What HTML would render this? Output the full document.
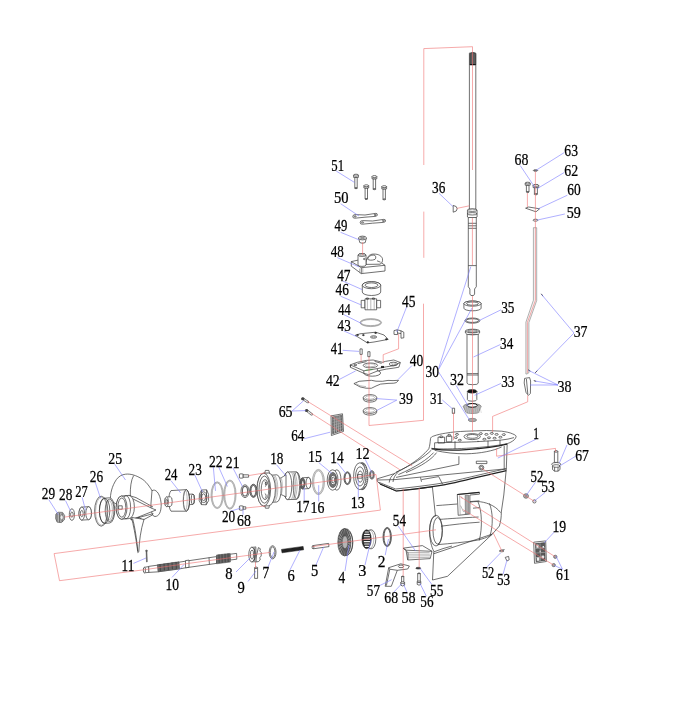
<!DOCTYPE html>
<html><head><meta charset="utf-8"><style>
html,body{margin:0;padding:0;background:#fff;}
svg{display:block;}
text{font-family:"Liberation Serif",serif;fill:#000;stroke:#000;stroke-width:.25px;}
svg{will-change:transform}
.p{fill:#fff;stroke:#333;stroke-width:.7;stroke-linejoin:round}
.n{fill:none;stroke:#333;stroke-width:.7;stroke-linejoin:round}
.d{fill:#555;stroke:#333;stroke-width:.5}
.sp{fill:#6a6a6a;stroke:#444;stroke-width:.5}
.g{fill:#aaa;stroke:#555;stroke-width:.5}
.w{fill:none;stroke:#ccc;stroke-width:.6}
.nl{fill:none;stroke:#777;stroke-width:.5}
.k{fill:#222;stroke:#111;stroke-width:.5}
.dk{fill:#888;stroke:#333;stroke-width:.6}
.rod{fill:#f4f4f4;stroke:#666;stroke-width:.5}
.r{fill:none;stroke:#f07070;stroke-width:.6}
.b{fill:none;stroke:#7a7aff;stroke-width:.6}
</style></head><body>
<svg width="693" height="720" viewBox="0 0 693 720">
<rect width="693" height="720" fill="#fff"/>
<rect class="p" x="469.4" y="53" width="6.4" height="157"/>
<path d="M469.9,54.4Q470,52.6 472.8,52.5Q475.6,52.6 475.7,54.4V64.8H469.9Z" fill="#5c5c5c" stroke="#222" stroke-width=".6"/>
<path d="M469.9,64.6H475.7" stroke="#111" stroke-width="1"/>
<path class="p" d="M467.45,210.2V217.0A4.8,1.2 0 0 0 477.05,217.0V210.2A4.8,1.2 0 0 0 467.45,210.2Z"/>
<ellipse class="p" cx="472.25" cy="210.2" rx="4.8" ry="1.2"/>
<ellipse class="n" cx="472.25" cy="213.8" rx="4.8" ry="1.2"/>
<path class="p" d="M468.3,217.5H476.3V286.7L474.6,289V294L473.6,295.5H470.9L469.9,294V289L468.3,286.7Z"/>
<path class="n" d="M468.3,223.3L476.3,223.3"/>
<path class="n" d="M468.3,225.8L476.3,225.8"/>
<path class="n" d="M468.3,228.3L476.3,228.3"/>
<path class="n" d="M468.3,265.6L476.3,265.6"/>
<path class="p" d="M453.2,205.4V212.2Q457.2,211.6 457.2,208.8Q457.2,206 453.2,205.4Z"/>
<rect class="p" x="354.8" y="177.39999999999998" width="2.4" height="10.800000000000011"/>
<ellipse class="p" cx="356" cy="188.2" rx="1.2" ry="0.48"/>
<rect class="p" x="353.6" y="175.16" width="4.8" height="2.2399999999999998"/>
<ellipse class="p" cx="356" cy="175.16" rx="2.4" ry="0.96"/>
<rect class="p" x="373.2" y="178.79999999999998" width="2.4" height="10.400000000000006"/>
<ellipse class="p" cx="374.4" cy="189.2" rx="1.2" ry="0.48"/>
<rect class="p" x="372.0" y="176.56" width="4.8" height="2.2399999999999998"/>
<ellipse class="p" cx="374.4" cy="176.56" rx="2.4" ry="0.96"/>
<rect class="p" x="365.1" y="188.0" width="2.4" height="11.0"/>
<ellipse class="p" cx="366.3" cy="199.0" rx="1.2" ry="0.48"/>
<rect class="p" x="363.90000000000003" y="185.76000000000002" width="4.8" height="2.2399999999999998"/>
<ellipse class="p" cx="366.3" cy="185.76000000000002" rx="2.4" ry="0.96"/>
<rect class="p" x="383.0" y="188.89999999999998" width="2.4" height="10.5"/>
<ellipse class="p" cx="384.2" cy="199.39999999999998" rx="1.2" ry="0.48"/>
<rect class="p" x="381.8" y="186.66" width="4.8" height="2.2399999999999998"/>
<ellipse class="p" cx="384.2" cy="186.66" rx="2.4" ry="0.96"/>
<path class="p" d="M352.8,216.6Q352.8,214.6 355,214.6L365,215L375.4,213.4Q377.6,213.2 377.4,215Q377,216.4 375,216.4L365,217.2L355,218.2Q352.8,218.4 352.8,216.6Z"/>
<ellipse class="n" cx="355.2" cy="216.4" rx="1" ry="0.6"/>
<ellipse class="n" cx="375.2" cy="214.9" rx="1" ry="0.6"/>
<path class="p" d="M360.2,222.6Q360.2,220.6 362.4,220.6L372.6,221L383.4,219.4Q385.8,219.2 385.6,221Q385.2,222.4 383.2,222.4L372.6,223.2L362.4,224.2Q360.2,224.4 360.2,222.6Z"/>
<ellipse class="n" cx="362.6" cy="222.4" rx="1" ry="0.6"/>
<ellipse class="n" cx="383.4" cy="220.9" rx="1" ry="0.6"/>
<path class="p" d="M358.6,238Q362.5,235 366.4,238L365.2,242.6Q362.5,244 359.8,242.6Z"/>
<ellipse class="p" cx="362.5" cy="238" rx="3.9" ry="1.9"/>
<ellipse class="g" cx="362.5" cy="238" rx="2.2" ry="1"/>
<path class="p" d="M351.3,261.6L357.7,260.2L377,259.8L385,265.3V271L361.3,273.6L351.3,266.2Z"/>
<path class="n" d="M351.3,261.6L361.3,267.7L385,265.3M361.3,267.7V273.6"/>
<path class="nl" d="M359.6,268.6V273.2M362.8,267.6V273.4"/>
<path class="p" d="M366,264.4C366,259 368,255 372,254.2C377,253.6 381,255 382.4,258.4C383,261 382,263.4 380,264.2Z"/>
<path class="n" d="M367.6,259.2C368.4,256 371,255 374,255C376,255.4 376.4,258 375,259.4C372,260.6 369,260.4 367.6,259.2Z"/>
<path class="n" d="M377,260.8L380.6,262.2"/>
<path class="p" d="M358,255V265A4,1.4 0 0 0 366,265V255A4,1.4 0 0 0 358,255Z"/>
<ellipse class="p" cx="362" cy="255" rx="4" ry="1.4"/>
<ellipse class="nl" cx="362" cy="255" rx="2.6" ry="0.8"/>
<ellipse class="n" cx="364.2" cy="259" rx="0.7" ry="0.7"/>
<path class="p" d="M362.3,285.2V292.0A9.2,3.5 0 0 0 380.7,292.0V285.2A9.2,3.5 0 0 0 362.3,285.2Z"/>
<ellipse class="p" cx="371.5" cy="285.2" rx="9.2" ry="3.5"/>
<ellipse class="n" cx="371.5" cy="285.2" rx="6.4" ry="2.3"/>
<rect class="p" x="361.2" y="300.4" width="3.8" height="7.4"/>
<rect class="p" x="376.6" y="300.4" width="4" height="7.4"/>
<rect class="p" x="365" y="298.8" width="11.6" height="11"/>
<path class="nl" d="M367.4,298.8V309.8M370.8,299V309.8M374.2,298.8V309.8"/>
<rect class="n" x="366.4" y="298" width="2" height="1.2"/>
<rect class="n" x="372.4" y="298" width="2" height="1.2"/>
<ellipse cx="370.8" cy="322.6" rx="10.3" ry="3.5" fill="none" stroke="#ccc" stroke-width="1.0"/>
<ellipse class="nl" cx="370.8" cy="322.6" rx="10.8" ry="4"/>
<ellipse class="nl" cx="370.8" cy="322.6" rx="9.8" ry="3.0"/>
<path class="p" d="M355.2,335.3L360,333.8L375.7,332.2L384,335L388.2,339.4L374,342L367.4,342.9Z"/>
<ellipse class="n" cx="373.6" cy="337" rx="3.2" ry="1.2"/>
<ellipse class="nl" cx="373.6" cy="337" rx="2" ry="0.7"/>
<ellipse class="k" cx="357.6" cy="335" rx="1" ry="0.6"/>
<ellipse class="k" cx="375.6" cy="332.9" rx="1" ry="0.6"/>
<ellipse class="k" cx="386.4" cy="339.2" rx="1" ry="0.6"/>
<ellipse class="k" cx="367.8" cy="342.2" rx="1" ry="0.6"/>
<ellipse class="k" cx="363.4" cy="335.1" rx="1" ry="0.6"/>
<path class="p" d="M394,330.6L397.2,329.8L401,330.8L403.8,332.2V337.8L401,338.2V333.6L397.6,333V334.6L394,334.4Z"/>
<path class="n" d="M397.2,329.8L397.6,333M401,330.8L401,333.6"/>
<rect class="p" x="360" y="348.9" width="2.2" height="5.5"/>
<rect class="p" x="367.8" y="351.7" width="2.2" height="5"/>
<ellipse class="p" cx="372.2" cy="373" rx="8.4" ry="3.2"/>
<path class="p" d="M350.2,364.9L357.2,362.3L366.6,360.4L373.1,360L382.5,362.3L385.3,361.4L393.8,360L400.3,362.5L398.9,367.2L393.8,368.1L386.3,369.1L377.4,371L368.5,374.6L363.8,373.3L350.6,367.4Z"/>
<path class="n" d="M350.2,364.9L363.8,370.8L377.4,368.6L386.3,366.8L393.8,365.6L400.3,362.5"/>
<path class="n" d="M363.8,370.8V373.3M377.4,368.6V371M350.4,365V367.4"/>
<ellipse class="n" cx="370.4" cy="365.4" rx="7.2" ry="2.4"/>
<ellipse class="nl" cx="370.4" cy="365.2" rx="5" ry="1.5"/>
<path class="n" d="M357.6,363.6L366.6,361.6M374.6,361.4L381.6,363.4"/>
<ellipse class="n" cx="393.4" cy="364" rx="4.2" ry="1.8"/>
<ellipse class="nl" cx="393.6" cy="363.8" rx="2.2" ry="0.9"/>
<rect class="n" x="354.2" y="364.2" width="2.2" height="1.4"/>
<rect class="k" x="381.4" y="366.2" width="2.4" height="1.6"/>
<path d="M365.6,370.2L372.6,369.6" stroke="#3a3" stroke-width=".6"/>
<path class="p" d="M353.9,383.6L359.1,381.3L365,380.8L371.3,380.3L376,381.2L382.5,381.3L388,380.4L393,380.6L398.5,380.3L396.4,382.6L393.8,383.2L388,383.4L380.6,384.1L376,386L371.3,388.3L366,388.2L360,386.9Z"/>
<path class="nl" d="M356,383.6L360,385.8L366,386.6"/>
<path class="p" d="M363.3,397.5V399.2A6.7,2.9 0 0 0 376.7,399.2V397.5"/>
<ellipse class="p" cx="370" cy="397.5" rx="6.7" ry="2.9"/>
<ellipse class="nl" cx="370" cy="397.5" rx="4.6" ry="1.8"/>
<path class="p" d="M363.3,410.5V412.2A6.7,2.9 0 0 0 376.7,412.2V410.5"/>
<ellipse class="p" cx="370" cy="410.5" rx="6.7" ry="2.9"/>
<ellipse class="nl" cx="370" cy="410.5" rx="4.6" ry="1.8"/>
<path class="p" d="M463.9,303.6V308.20000000000005A8.6,2.6 0 0 0 481.1,308.20000000000005V303.6A8.6,2.6 0 0 0 463.9,303.6Z"/>
<ellipse class="p" cx="472.5" cy="303.6" rx="8.6" ry="2.6"/>
<ellipse class="n" cx="472.5" cy="303.6" rx="6" ry="1.6"/>
<ellipse class="p" cx="472.4" cy="320.6" rx="7.5" ry="2.6"/>
<ellipse class="n" cx="472.4" cy="320.6" rx="6.3" ry="1.8"/>
<path class="p" d="M467.0,333.4V383.2A5.6,1.5 0 0 0 478.20000000000005,383.2V333.4A5.6,1.5 0 0 0 467.0,333.4Z"/>
<ellipse class="p" cx="472.6" cy="333.4" rx="5.6" ry="1.5"/>
<path class="p" d="M465.4,331V333L467,334.4H478.2L479.6,333V331Z"/>
<ellipse class="p" cx="472.5" cy="331" rx="7.1" ry="1.8"/>
<ellipse class="n" cx="472.5" cy="331" rx="5" ry="1.1"/>
<path class="n" d="M467,373.6L478.2,373.6"/>
<path class="n" d="M467,375L478.2,375"/>
<path class="p" d="M467.40000000000003,391.4V399.59999999999997A4.7,1.6 0 0 0 476.8,399.59999999999997V391.4A4.7,1.6 0 0 0 467.40000000000003,391.4Z"/>
<ellipse class="p" cx="472.1" cy="391.4" rx="4.7" ry="1.6"/>
<ellipse cx="472.1" cy="391.4" rx="4.4" ry="1.4" fill="#111" stroke="#111" stroke-width=".6"/>
<path class="g" d="M463.2,406.4C464,404.4 468,403.6 472.2,403.6C476.6,403.6 480.4,404.4 481.2,406.4L478.6,412.6C476.6,413.8 468,413.8 466,412.6Z"/>
<path class="w" d="M465.0,405.6L466.6,413"/>
<path class="w" d="M467.1,405.6L468.70000000000005,413"/>
<path class="w" d="M469.2,405.6L470.8,413"/>
<path class="w" d="M471.3,405.6L472.90000000000003,413"/>
<path class="w" d="M473.4,405.6L475.0,413"/>
<path class="w" d="M475.5,405.6L477.1,413"/>
<path class="w" d="M477.6,405.6L479.20000000000005,413"/>
<path class="w" d="M479.7,405.6L481.3,413"/>
<ellipse cx="472.2" cy="405.4" rx="5" ry="1.9" fill="#fff" stroke="#111" stroke-width="1"/>
<ellipse class="g" cx="472.4" cy="420" rx="4.2" ry="1.7"/>
<rect class="p" x="452.3" y="408.2" width="2.3" height="5.2"/>
<path class="rod" d="M533.4,227.7H536.7V300.6L528.9,322.6V372.8L526.9,374H525.9V322.2L533.4,300.2Z"/>
<path class="p" d="M524.6,378.4L529.6,377.6L530.6,381L530.4,393.4L528.4,395.4L526,392.4L524.2,383Z"/>
<path class="n" d="M526.4,379L527.8,394"/>
<ellipse class="dk" cx="535.5" cy="170.5" rx="2.2" ry="0.8"/>
<rect class="p" x="534.4" y="187.6" width="3.0" height="6.6"/>
<ellipse class="p" cx="535.9" cy="194.2" rx="1.5" ry="0.6000000000000001"/>
<rect class="p" x="533.1" y="185.36" width="5.6" height="2.2399999999999998"/>
<ellipse class="p" cx="535.9" cy="185.36" rx="2.8" ry="0.96"/>
<rect class="p" x="526.4000000000001" y="185.2" width="2.6" height="6.8"/>
<ellipse class="p" cx="527.7" cy="192.0" rx="1.3" ry="0.52"/>
<rect class="p" x="525.2" y="183.1" width="5.0" height="2.0999999999999996"/>
<ellipse class="p" cx="527.7" cy="183.1" rx="2.5" ry="0.8999999999999999"/>
<path class="p" d="M525.6,208.2L528.6,207L539.6,208.8L536,211.8Z"/>
<ellipse class="n" cx="535.5" cy="220.2" rx="2.4" ry="1"/>
<path class="p" d="M430.5,438.7C431,437 432,436.6 433.2,436.2C438,434.4 442,433.8 445.5,433.2C452,432 458,431.6 466.1,431.2L486.6,430.5L501.7,431.2C506,431.8 510,432.6 512.7,433.9C515,434.8 516.3,435.6 516.1,436.8C515.6,438.4 514.6,439.6 514,440C512,441.6 510,442.8 507.2,443.6L506.3,468.8L503.8,495L501.3,512C501.4,517 500.8,521 499.4,526L492.6,533.8L447.5,576.3L432.5,580L433.8,551.4C431.6,547 429.6,540 429.6,531C429.8,522 432,516.6 435.5,516.2L432.4,487L396.2,491L380,484L377.2,481.2L377.2,478.8L393.8,473.8C400,470.6 404,468.4 407.5,466.3C412,463.5 417,460 420,457.5C424,454 427,451 428.8,448.8C429.8,446 430.2,442 430.5,438.7Z"/>
<path class="n" d="M431.2,448.3C440,449.4 455,448.8 466.1,448.3C485,447.2 498,445.6 507.2,443.6"/>
<path class="n" d="M434.6,442.8C445,442.6 455,442.3 466.1,442.1C480,441.6 492,440.8 501.7,440C506,439.6 510,438.8 514,437.6"/>
<path d="M431.8,448.8C445,450.6 458,450.2 466.1,449.6C482,448.6 496,447 507,444.2" fill="none" stroke="#222" stroke-width="1.2"/>
<path class="n" d="M504.2,446V469.4"/>
<path class="n" d="M434.6,442.8V449"/>
<ellipse class="n" cx="472.2" cy="436.6" rx="8.2" ry="3"/>
<ellipse class="n" cx="472.4" cy="436.4" rx="5.6" ry="1.9"/>
<rect class="n" x="438" y="437.2" width="6.6" height="5.8"/>
<rect class="n" x="446.4" y="436.2" width="5.4" height="5.6"/>
<ellipse class="n" cx="441.2" cy="436.8" rx="1.6" ry="0.9"/>
<ellipse class="n" cx="449.2" cy="435.2" rx="1.6" ry="0.9"/>
<ellipse class="n" cx="455.8" cy="437.6" rx="1.6" ry="0.9"/>
<ellipse class="n" cx="459.8" cy="440.2" rx="1.6" ry="0.9"/>
<ellipse class="n" cx="480.8" cy="433.6" rx="1.6" ry="0.9"/>
<ellipse class="n" cx="486.4" cy="434.4" rx="1.6" ry="0.9"/>
<ellipse class="n" cx="491.8" cy="433.4" rx="1.6" ry="0.9"/>
<ellipse class="n" cx="496.6" cy="434.4" rx="1.6" ry="0.9"/>
<ellipse class="n" cx="489" cy="437.8" rx="1.6" ry="0.9"/>
<ellipse class="n" cx="494.6" cy="438.2" rx="1.6" ry="0.9"/>
<ellipse class="n" cx="500.4" cy="437.2" rx="1.6" ry="0.9"/>
<ellipse class="n" cx="484.4" cy="439.2" rx="1.6" ry="0.9"/>
<ellipse class="n" cx="503.8" cy="434.6" rx="1.6" ry="0.9"/>
<ellipse class="n" cx="457" cy="434.4" rx="1.6" ry="0.9"/>
<path class="n" d="M478,440.8V442M455,441.2V448.8M488,440.8V447.4M500,440V446"/>
<path class="n" d="M434.6,450.3C445,452.8 455,453.8 466.1,453.8C480,453.6 494,450.8 501.7,446.9"/>
<path class="n" d="M431.4,450C426,456 412,465 396,472.2"/>
<path class="n" d="M433.6,452.6C428,459 416,467 398.4,474.6"/>
<path class="n" d="M436.6,452.6C432,459 422,466 406,472.6"/>
<path class="n" d="M394.6,473.6C391.4,475.8 389.6,478.6 389.2,482.6"/>
<path class="n" d="M398,472.4C395,475 393.4,478 393,482"/>
<path class="n" d="M377.6,480L395,479.6L506.3,468.8"/>
<path class="n" d="M378.6,482.2L395.6,489C420,486.4 440,484 455,480.6C475,476 495,471 506.3,468.8"/>
<path d="M380,484L396.2,491C420,488.6 440,486 455,482.6C475,478 495,473 506.3,470.6" fill="none" stroke="#222" stroke-width="1.1"/>
<path class="n" d="M396,477.4L458.9,464.3M458.9,456.2V464.3"/>
<path class="n" d="M420.5,477.4L421.5,481.8M421.5,479.6L438.7,476.6L442.7,484.4"/>
<rect class="p" x="476.3" y="461.2" width="10.6" height="2.4"/>
<ellipse class="p" cx="481.4" cy="467.6" rx="2.4" ry="2.3"/>
<ellipse class="n" cx="481.4" cy="467.6" rx="1.3" ry="1.2"/>
<path class="n" d="M434,551.8C440,549.4 446,547.6 452,546"/>
<path class="p" d="M457.3,494.5L479.4,492.4V494.2L469.9,495V514L458.2,515.3Z"/>
<path d="M457.3,494.5L479.4,492.4" stroke="#222" stroke-width="1.2"/>
<path class="g" d="M465.1,495.4L468.6,495.1L468.8,513.7L465.4,514Z"/>
<path class="nl" d="M459.6,495.4L460.2,514.8M460.6,505.6L463.4,511.6L465.2,511.2M461.4,496.6L462.4,499"/>
<path class="n" d="M469.9,501.6L479.4,500.8M473,508.2L479.4,507.6"/>
<path class="n" d="M436.4,505.6C445,505 452,504.4 457.3,504M469.9,502.2C472,501.8 474.6,501.5 477.2,501.5C485,501.8 495,505 500.6,512.6"/>
<path class="n" d="M437.8,544.6C450,543.6 465,542.2 476,540.4C485,538.6 490,536.2 492.6,533.8"/>
<path class="n" d="M477.8,501.4C482,510 482.6,528 479.2,540.6"/>
<path class="n" d="M489.4,503.4C493,512 493.2,526 490,535.6"/>
<path class="n" d="M441,526.2C452,524.8 466,523 479.6,522.2"/>
<path class="n" d="M439.6,519.4C450,518.6 462,517.8 478.6,517"/>
<ellipse class="n" cx="436" cy="530.6" rx="6.4" ry="15.4"/>
<ellipse class="n" cx="437.6" cy="530.8" rx="4.6" ry="13.2"/>
<path class="n" d="M433.6,553.8L492,534.2"/>
<rect class="p" x="554.4" y="451.4" width="3.4" height="11"/>
<ellipse class="p" cx="556.1" cy="451.4" rx="1.7" ry="0.8"/>
<path class="p" d="M552.4,466L552.6,469.6L554.6,471.2H558L560,469.6V466Z"/>
<path class="n" d="M554.6,466V471.2M558,466V471.2"/>
<ellipse class="p" cx="556.2" cy="464.2" rx="4.6" ry="1.7"/>
<ellipse class="p" cx="556.2" cy="466" rx="3.8" ry="1.3"/>
<ellipse class="p" cx="526" cy="496" rx="2.4" ry="2.2"/>
<ellipse class="n" cx="526" cy="496" rx="1.2" ry="1.1"/>
<ellipse class="p" cx="534.4" cy="501.4" rx="1.6" ry="1.6"/>
<path class="p" d="M533.7,542.2L545.7,540.9L546.4,561.5L534.5,563.3Z"/>
<path d="M535.4,543.6L544.8,542.6L545.2,560.4L536,561.8Z" fill="#5a5a5a" stroke="#333" stroke-width=".5"/>
<rect x="536.4" y="544.6" width="2.2" height="3.2" fill="#eee"/>
<rect x="536.8" y="557.4" width="2.6" height="3.4" fill="#eee"/>
<rect x="541.6" y="555.6" width="2.4" height="2.8" fill="#eee"/>
<rect x="539.6" y="550.6" width="1.2" height="1.6" fill="#eee"/>
<rect x="542.6" y="546" width="1.4" height="1.8" fill="#eee"/>
<path d="M535.6,548.5L545,547.7" stroke="#ccc" stroke-width=".5"/>
<path d="M535.6,553.1L545,552.3" stroke="#ccc" stroke-width=".5"/>
<path d="M535.6,557.7L545,556.9" stroke="#ccc" stroke-width=".5"/>
<path d="M540,543.2L540.6,561" stroke="#bbb" stroke-width=".5"/>
<ellipse cx="555.3" cy="556.8" rx="1.7" ry="1.6" fill="#aaa" stroke="#444" stroke-width=".6"/>
<ellipse cx="553.7" cy="565.1" rx="1.7" ry="1.6" fill="#aaa" stroke="#444" stroke-width=".6"/>
<path class="n" d="M500.2,550.5L504.6,549.6"/>
<ellipse class="p" cx="501.6" cy="551" rx="2.4" ry="0.8"/>
<path class="p" d="M505.2,557.4L508.6,556.4L509.2,559.8L507,561Z"/>
<path class="p" d="M403,548.2L422.4,545.6L432,551.3L430.2,558.6L407.7,560L406,550.2Z"/>
<path class="n" d="M403,548.2L406,550.2L432,551.3"/>
<path class="nl" d="M408,552.4L429.6,552.6M408.2,554.2L429.8,554.2M408.4,556L430,555.8M408.4,557.8L430,557.4"/>
<path class="n" d="M406.4,551.6L408,552.4V559.8"/>
<path class="p" d="M388.7,567.7L400.8,563.8L409.4,566L407.7,569L397.3,570.3L391.3,586.3L385.2,586.3Z"/>
<path class="n" d="M388.7,567.7L389.8,569.2L397.3,570.3M389.8,569.2L386.4,585.6"/>
<ellipse class="n" cx="401" cy="566.4" rx="2.6" ry="1.3"/>
<ellipse class="p" cx="402.7" cy="576.6" rx="1.1" ry="0.49500000000000005"/>
<rect class="p" x="401.59999999999997" y="576.6" width="2.2" height="6"/>
<path class="p" d="M400.8,582.6V585.2L402.7,586.0L404.59999999999997,585.2V582.6Z"/>
<ellipse class="p" cx="402.7" cy="582.6" rx="1.9" ry="0.855"/>
<ellipse cx="418.3" cy="568.2" rx="2.5" ry="0.9" fill="#444" stroke="#222" stroke-width=".5"/>
<ellipse class="p" cx="419" cy="573.6" rx="1.3" ry="0.5850000000000001"/>
<rect class="p" x="417.7" y="573.6" width="2.6" height="8.2"/>
<path class="p" d="M417.2,581.8000000000001V584.4000000000001L419,585.2L420.8,584.4000000000001V581.8000000000001Z"/>
<ellipse class="p" cx="419" cy="581.8000000000001" rx="1.8" ry="0.81"/>
<path class="p" d="M148.6,566.4L157.3,565.2L179,562.2L185.5,561.2L216.5,556.6L216.5,563.4L185.5,567.8L179,569L157.3,571.9L148.6,572.4Z"/>
<path class="sp" d="M157.3,564.8L179,561.8L179.6,568.6L158,571.8Z"/>
<path class="n" d="M160,564.1800000000001L160.4,570.98"/>
<path class="n" d="M164,563.62L164.4,570.42"/>
<path class="n" d="M168,563.0600000000001L168.4,569.86"/>
<path class="n" d="M172,562.5L172.4,569.3"/>
<path class="n" d="M176,561.94L176.4,568.74"/>
<path class="p" d="M185.5,560.6L189,560.1V567.3L185.5,567.8Z"/>
<path class="n" d="M209,557.6L209.4,564.4"/>
<path class="sp" d="M216.5,555L230.2,553.4L230.4,562L216.6,563.8Z"/>
<path class="n" d="M219,554.4399999999999L219.2,563.04"/>
<path class="n" d="M222,554.0799999999999L222.2,562.68"/>
<path class="n" d="M225,553.7199999999999L225.2,562.3199999999999"/>
<path class="n" d="M228,553.3599999999999L228.2,561.9599999999999"/>
<path class="p" d="M230.2,554.2L236.6,553.4L236.8,559.2L230.4,560Z"/>
<path class="p" d="M144.2,567.4L148.6,566.6L148.8,572.4L144.4,572.8Z"/>
<ellipse class="p" cx="144.4" cy="570.1" rx="1.1" ry="2.8"/>
<path class="sp" d="M146.1,550.8L146.9,550.6L147.3,561.8L146.5,562Z"/>
<ellipse class="sp" cx="146.5" cy="550.8" rx="0.9" ry="0.8"/>
<path class="p" d="M258.4,547.6L260.4,548.8L259.8,551L261.2,552.4V556L259.8,557.6L260.2,560L258.4,561.6L255,562Z"/>
<path class="g" d="M251.6,547.2L256,546.8L256.4,561.8L251.8,562Z"/>
<ellipse class="p" cx="251.8" cy="554.6" rx="3" ry="7.4"/>
<ellipse class="n" cx="252" cy="554.6" rx="1.6" ry="4.6"/>
<path class="n" d="M254.2,548.6C255.4,551 255.4,558 254.2,560.6"/>
<rect class="p" x="254.6" y="567.8" width="3" height="10.6"/>
<ellipse class="p" cx="256.1" cy="567.8" rx="1.5" ry="0.7"/>
<ellipse class="p" cx="272.6" cy="552.3" rx="3.4" ry="6.6"/>
<ellipse class="n" cx="272.6" cy="552.3" rx="2.3" ry="5.4"/>
<path class="k" d="M281.5,549.4L303.1,546.4L303.6,549.8L282,552.8Z"/>
<path class="p" d="M312.8,545.6L328.6,543.4L329,546.6L313.2,548.8Z"/>
<ellipse class="p" cx="313" cy="547.2" rx="0.9" ry="1.6"/>
<path class="p" d="M344.2,528.6C348,528.6 352.6,534 352.8,542.2C352.8,550.6 349,555.8 344.2,555.8Z"/>
<ellipse cx="344.4" cy="542.2" rx="6.6" ry="13.6" fill="#8c8c8c" stroke="#333" stroke-width=".6"/>
<path class="n" d="M347.40000000000003,542.2L350.79999999999995,542.2"/>
<path class="n" d="M347.2946817313977,543.8903953410486L350.5407550311328,545.918869750307"/>
<path class="n" d="M346.9872591853611,545.4438449047336L349.78402261011956,549.336458790414"/>
<path class="n" d="M346.5026379082577,546.7344974461256L348.5911086972498,552.1758943814763"/>
<path class="n" d="M345.8800790338049,547.6577919721271L347.05865608321204,554.2071423386797"/>
<path class="n" d="M345.17001857951055,548.1389286512856L345.31081496494903,555.2656430328284"/>
<path class="n" d="M344.42998142048947,548.1389286512856L343.489185035051,555.2656430328284"/>
<path class="n" d="M343.7199209661951,547.6577919721271L341.7413439167879,554.2071423386797"/>
<path class="n" d="M343.0973620917423,546.7344974461256L340.20889130275015,552.1758943814763"/>
<path class="n" d="M342.6127408146389,545.4438449047336L339.0159773898804,549.336458790414"/>
<path class="n" d="M342.3053182686023,543.8903953410486L338.2592449688672,545.918869750307"/>
<path class="n" d="M342.2,542.2L338.0,542.2"/>
<path class="n" d="M342.3053182686023,540.5096046589515L338.25924496886716,538.4811302496931"/>
<path class="n" d="M342.6127408146389,538.9561550952665L339.0159773898804,535.0635412095861"/>
<path class="n" d="M343.0973620917423,537.6655025538745L340.20889130275015,532.2241056185238"/>
<path class="n" d="M343.7199209661951,536.742208027873L341.7413439167879,530.1928576613204"/>
<path class="n" d="M344.42998142048947,536.2610713487145L343.489185035051,529.1343569671717"/>
<path class="n" d="M345.17001857951055,536.2610713487145L345.310814964949,529.1343569671717"/>
<path class="n" d="M345.8800790338049,536.742208027873L347.05865608321204,530.1928576613204"/>
<path class="n" d="M346.5026379082577,537.6655025538745L348.5911086972498,532.2241056185238"/>
<path class="n" d="M346.9872591853611,538.9561550952665L349.7840226101195,535.0635412095861"/>
<path class="n" d="M347.2946817313977,540.5096046589515L350.5407550311328,538.4811302496931"/>
<ellipse cx="345" cy="542.2" rx="2.8" ry="6.4" fill="#b4b4b4" stroke="#444" stroke-width=".5"/>
<path class="n" d="M346.6,528.8C350.6,530 352.6,536 352.6,542.2C352.6,549 350.6,554.6 346.6,555.6"/>
<ellipse class="p" cx="371" cy="539.3" rx="4.8" ry="9.6"/>
<ellipse class="nl" cx="369.4" cy="539.3" rx="4.4" ry="9.4"/>
<ellipse cx="366.6" cy="539.2" rx="4.6" ry="9.4" fill="#2a2a2a" stroke="#111" stroke-width=".6"/>
<rect x="364.77" y="531.45" width="4.26" height="1.1" rx="0.5" fill="#f2f2f2"/>
<rect x="364.05" y="533.85" width="5.70" height="1.1" rx="0.5" fill="#f2f2f2"/>
<rect x="363.70" y="536.25" width="6.40" height="1.1" rx="0.5" fill="#f2f2f2"/>
<rect x="363.59" y="538.65" width="6.62" height="1.1" rx="0.5" fill="#f2f2f2"/>
<rect x="363.70" y="541.05" width="6.40" height="1.1" rx="0.5" fill="#f2f2f2"/>
<rect x="364.05" y="543.45" width="5.70" height="1.1" rx="0.5" fill="#f2f2f2"/>
<rect x="364.77" y="545.85" width="4.26" height="1.1" rx="0.5" fill="#f2f2f2"/>
<ellipse cx="387.2" cy="537" rx="3.7" ry="9.1" fill="none" stroke="#999" stroke-width="1.0"/>
<ellipse class="n" cx="387.2" cy="537" rx="4.2" ry="9.6"/>
<ellipse class="n" cx="387.2" cy="537" rx="3.2" ry="8.6"/>
<ellipse cx="371.9" cy="474.9" rx="1.7999999999999998" ry="3.7" fill="none" stroke="#aaa" stroke-width="1.0"/>
<ellipse class="n" cx="371.9" cy="474.9" rx="2.3" ry="4.2"/>
<ellipse class="n" cx="371.9" cy="474.9" rx="1.2999999999999998" ry="3.2"/>
<ellipse class="p" cx="362" cy="476.2" rx="6" ry="13.6"/>
<path class="n" d="M362.0,464.59999999999997L362.0,462.59999999999997"/>
<path class="n" d="M362.6912972791791,464.7582088805284L362.9875675416844,462.78548627372294"/>
<path class="n" d="M363.36373777065967,465.2285199962726L363.94819681522813,463.33688551287133"/>
<path class="n" d="M363.99897905075574,465.9981044860047L364.85568435822245,464.2391569835917"/>
<path class="n" d="M364.5796933932966,467.04597009100183L365.685276276138,465.46768907220905"/>
<path class="n" d="M365.0900404248272,468.3435337691414L366.4143434640388,466.9889706258899"/>
<path class="n" d="M365.5160992087026,469.8554013657798L367.0229988695752,468.761505049535"/>
<path class="n" d="M365.84624797195124,471.54033307402557L367.49463995993034,470.7369422247196"/>
<path class="n" d="M366.07148111694517,473.35236834916674L367.81640159563597,472.86139737488514"/>
<path class="n" d="M366.185654870628,475.24207959252095L367.97950695804,475.0769209015763"/>
<path class="n" d="M366.185654870628,477.157920407479L367.97950695804,477.3230790984237"/>
<path class="n" d="M366.07148111694517,479.04763165083324L367.81640159563597,479.53860262511483"/>
<path class="n" d="M365.84624797195124,480.8596669259744L367.49463995993034,481.6630577752804"/>
<path class="n" d="M365.5160992087026,482.54459863422016L367.0229988695752,483.638494950465"/>
<path class="n" d="M365.0900404248272,484.0564662308586L366.4143434640388,485.41102937411006"/>
<path class="n" d="M364.5796933932966,485.35402990899814L365.685276276138,486.9323109277909"/>
<path class="n" d="M363.99897905075574,486.40189551399527L364.85568435822245,488.16084301640825"/>
<path class="n" d="M363.36373777065967,487.17148000372737L363.94819681522813,489.06311448712864"/>
<path class="n" d="M362.6912972791791,487.6417911194716L362.9875675416844,489.61451372627704"/>
<path class="n" d="M362.0,487.8L362.0,489.8"/>
<ellipse class="p" cx="359.8" cy="476.2" rx="6.2" ry="13.4"/>
<ellipse class="n" cx="360" cy="476.4" rx="4.4" ry="9.6"/>
<ellipse class="n" cx="360.2" cy="476.6" rx="2.6" ry="5.6"/>
<rect class="n" x="357.6" y="474.6" width="4.4" height="3.6"/>
<ellipse cx="347.4" cy="478.2" rx="2.9" ry="5.9" fill="none" stroke="#999" stroke-width="1.0"/>
<ellipse class="n" cx="347.4" cy="478.2" rx="3.4" ry="6.4"/>
<ellipse class="n" cx="347.4" cy="478.2" rx="2.4" ry="5.4"/>
<ellipse class="p" cx="336.8" cy="480" rx="4.2" ry="10.2"/>
<ellipse class="p" cx="332.6" cy="480" rx="5.4" ry="10.2"/>
<ellipse cx="332.8" cy="480" rx="4" ry="7.6" fill="#777" stroke="#333" stroke-width=".6"/>
<ellipse class="p" cx="333.2" cy="480" rx="2.4" ry="4.8"/>
<ellipse class="n" cx="333.2" cy="480" rx="1.4" ry="3"/>
<ellipse cx="318.4" cy="482" rx="5.3999999999999995" ry="11.9" fill="none" stroke="#ddd" stroke-width="1.4"/>
<ellipse class="nl" cx="318.4" cy="482" rx="6.1" ry="12.6"/>
<ellipse class="nl" cx="318.4" cy="482" rx="4.699999999999999" ry="11.2"/>
<path class="p" d="M302.6,477.79999999999995L308.4,477.4A2.4,5.6 0 0 1 308.4,488.6L302.6,489.0A2.4,5.6 0 0 1 302.6,477.79999999999995Z"/>
<ellipse class="p" cx="308.4" cy="483" rx="2.4" ry="5.6"/>
<ellipse cx="302.6" cy="483.4" rx="2.4" ry="5.4" fill="#666" stroke="#333" stroke-width=".6"/>
<ellipse class="p" cx="302.8" cy="483.4" rx="1.2" ry="2.8"/>
<path class="p" d="M287.6,472.0L296.4,471.8A4.2,13.8 0 0 1 296.4,499.40000000000003L287.6,499.6A4.2,13.8 0 0 1 287.6,472.0Z"/>
<ellipse class="n" cx="296.4" cy="485.6" rx="3.2" ry="13.2"/>
<path class="nl" d="M291.6,472.4C295.20000000000005,478 295.20000000000005,493 291.6,499"/>
<path class="nl" d="M293,472.4C296.6,478 296.6,493 293,499"/>
<path class="nl" d="M294.4,472.4C298.0,478 298.0,493 294.4,499"/>
<ellipse class="p" cx="287.6" cy="485.8" rx="4.2" ry="13.8"/>
<path class="p" d="M276.6,479.4C280,478.6 283,477 286,474.6V497C283,495 280,494 276.6,494Z"/>
<path class="nl" d="M281.4,478.2C282.6,482 282.6,490 281.4,494.6"/>
<path class="p" d="M270.6,475.2L276.8,474.79999999999995A4.4,13.6 0 0 1 276.8,502.0L270.6,502.40000000000003A4.4,13.6 0 0 1 270.6,475.2Z"/>
<path class="nl" d="M272,475.4C276,481 276,496 272,502"/>
<path class="nl" d="M273.4,475.4C277.4,481 277.4,496 273.4,502"/>
<path class="nl" d="M274.8,475.4C278.8,481 278.8,496 274.8,502"/>
<path class="p" d="M264.6,473.4L265.4,470.4H268.8L269.6,473.4Z"/>
<path class="p" d="M264.6,505L265.4,508.2H268.8L269.6,505Z"/>
<path class="p" d="M263.8,473.20000000000005L268.6,473.0A6.8,16.4 0 0 1 268.6,505.79999999999995L263.8,506.0A6.8,16.4 0 0 1 263.8,473.20000000000005Z"/>
<ellipse class="p" cx="263.8" cy="489.6" rx="6.8" ry="16.4"/>
<ellipse class="n" cx="264.4" cy="489.6" rx="5.4" ry="13.6"/>
<ellipse class="n" cx="265" cy="489.6" rx="3.8" ry="10"/>
<path class="n" d="M264.6,481.4C266.2,482 266.6,485 265.4,486.6M264.8,493.4C266.4,494 266.6,497 265.2,498.4"/>
<ellipse class="n" cx="266.2" cy="483.4" rx="0.9" ry="1.4"/>
<path class="p" d="M239.4,474.1L241,473.8L243.2,474.1V477.9L241,478.2L239.4,477.9Z"/>
<path class="p" d="M243.2,474.8H248.6V477.2H243.2Z"/>
<path class="p" d="M239.4,506.1L241,505.8L243.2,506.1V509.9L241,510.2L239.4,509.9Z"/>
<path class="p" d="M243.2,506.8H245.8V509.2H243.2Z"/>
<ellipse class="p" cx="245" cy="491.2" rx="4" ry="6.4"/>
<ellipse cx="245" cy="491.2" rx="2.6" ry="4.8" fill="none" stroke="#666" stroke-width="1.1"/>
<ellipse cx="253.4" cy="490.8" rx="3.0" ry="6.0" fill="none" stroke="#999" stroke-width="1.2"/>
<ellipse class="n" cx="253.4" cy="490.8" rx="3.6" ry="6.6"/>
<ellipse class="n" cx="253.4" cy="490.8" rx="2.4000000000000004" ry="5.3999999999999995"/>
<ellipse cx="217.2" cy="495.2" rx="5.65" ry="12.85" fill="none" stroke="#ddd" stroke-width="1.1"/>
<ellipse class="nl" cx="217.2" cy="495.2" rx="6.2" ry="13.4"/>
<ellipse class="nl" cx="217.2" cy="495.2" rx="5.1" ry="12.3"/>
<ellipse cx="229.9" cy="494.6" rx="5.65" ry="14.049999999999999" fill="none" stroke="#ddd" stroke-width="1.1"/>
<ellipse class="nl" cx="229.9" cy="494.6" rx="6.2" ry="14.6"/>
<ellipse class="nl" cx="229.9" cy="494.6" rx="5.1" ry="13.5"/>
<path class="p" d="M199.4,494L201.6,490L206.6,489.8L208.6,494.4L208.6,500.6L206.2,504.8L201.4,504.6L199.2,500.6Z"/>
<ellipse class="n" cx="203.6" cy="497.2" rx="3.4" ry="5.4"/>
<ellipse class="n" cx="203.6" cy="497.2" rx="2" ry="3.4"/>
<path class="n" d="M201.6,490L201.4,504.6"/>
<path class="n" d="M206.6,489.8L206.2,504.8"/>
<path class="p" d="M187.6,494.40000000000003L192.8,494.0A1.6,5.2 0 0 1 192.8,504.4L187.6,504.8A1.6,5.2 0 0 1 187.6,494.40000000000003Z"/>
<ellipse class="n" cx="192.8" cy="499.2" rx="1.6" ry="5.2"/>
<path class="p" d="M171,490.6L186.6,489.6C188.6,491 189.6,495 189.6,500.4C189.6,506 188.6,510 186.6,511.2L171,511.2C169.4,509 168.8,505 168.8,500.8C168.8,496 169.4,492.6 171,490.6Z"/>
<ellipse class="n" cx="186.4" cy="500.4" rx="3" ry="10.6"/>
<ellipse class="nl" cx="185.2" cy="500.4" rx="2" ry="10.2"/>
<path class="p" d="M166.6,497.0L170.4,496.8A1.8,4.8 0 0 1 170.4,506.40000000000003L166.6,506.6A1.8,4.8 0 0 1 166.6,497.0Z"/>
<ellipse class="p" cx="166.6" cy="501.8" rx="1.8" ry="4.8"/>
<ellipse class="n" cx="166.8" cy="501.8" rx="0.9" ry="2.6"/>
<path class="p" d="M110.5,500.6C110,494 112,486 116.4,479.5C119,476 122,474.6 125.6,474.2C130,473.6 136,475 142.8,479.5C147,482.6 151,488 156,498C158,503 158,508 154.7,513.8L143,520Z"/>
<path class="n" d="M133.6,475.6C131,480 130.2,488 130.3,494C130.4,500 131,505 132,508"/>
<path class="p" d="M152,490.7C155,488.6 160,492 161.2,503.6C161.4,512 159,516.4 155,516.5C152,516.4 150.5,510 151,503Z"/>
<path class="p" d="M127,496L152,508.4L156,510L131,520Z"/>
<path class="n" d="M128.6,495.4L136,497.6L153,507M131,519.6L153.4,513.6"/>
<path class="p" d="M131.5,517.4C133.4,525 135.4,535 137,546L137.8,552.6L138.8,551.8C139.2,542 140.6,530 144,519.4Z"/>
<path class="n" d="M132.6,518.6C134.8,527 136.6,538 137.8,551"/>
<path class="p" d="M121.6,496.0L129,495.4A5.4,11.6 0 0 1 129,518.6L121.6,519.2A5.4,11.6 0 0 1 121.6,496.0Z"/>
<ellipse class="n" cx="126" cy="507.2" rx="4.6" ry="11.6"/>
<ellipse class="p" cx="121.6" cy="507.6" rx="5.4" ry="11.6"/>
<ellipse class="n" cx="121.8" cy="507.6" rx="4" ry="9.6"/>
<rect class="n" x="118.6" y="505.8" width="3.6" height="3.4"/>
<path class="p" d="M104.6,498.2L109.6,497.79999999999995A5.2,12.6 0 0 1 109.6,523.0L104.6,523.4A5.2,12.6 0 0 1 104.6,498.2Z"/>
<ellipse class="n" cx="109.6" cy="510.4" rx="4.4" ry="11.2"/>
<ellipse class="nl" cx="109.2" cy="510.4" rx="3.2" ry="9.6"/>
<ellipse class="n" cx="104.6" cy="510.8" rx="5.2" ry="12.6"/>
<ellipse class="n" cx="101.2" cy="511.2" rx="6.6" ry="15"/>
<ellipse class="nl" cx="101.4" cy="511.2" rx="5.8" ry="14"/>
<path class="p" d="M81.8,507.1L88.6,506.70000000000005A2.8,6.5 0 0 1 88.6,519.7L81.8,520.1A2.8,6.5 0 0 1 81.8,507.1Z"/>
<ellipse class="p" cx="88.6" cy="513.2" rx="2.8" ry="6.5"/>
<ellipse class="p" cx="81.8" cy="513.6" rx="2.8" ry="6.5"/>
<ellipse class="n" cx="81.8" cy="513.6" rx="1.4" ry="3.2"/>
<ellipse class="p" cx="71.9" cy="514.6" rx="2.6" ry="5.8"/>
<ellipse class="n" cx="71.9" cy="514.6" rx="1.3" ry="2.6"/>
<path d="M55.8,514.2L58,512.2L62.6,512.4L64.6,515.4L64.4,519.8L61.4,522.6L57.2,522.2L55.6,518.6Z" fill="#b4b4b4" stroke="#444" stroke-width=".6"/>
<path d="M57,513.6V521.4M59.6,513V522.4M62.2,513.2V522" stroke="#555" stroke-width=".8"/>
<ellipse cx="61.6" cy="517.4" rx="1.6" ry="2.4" fill="#eee" stroke="#555" stroke-width=".5"/>
<path class="p" d="M331,415.9L342.5,413.8L343.5,431.4L331.4,435.5Z"/>
<path d="M332.4,417L341.6,415.2L342.4,430.4L332.6,433.8Z" fill="#6a6a6a" stroke="#333" stroke-width=".5"/>
<path d="M334.24,416.64L334.56,433.12" stroke="#ddd" stroke-width=".5"/>
<path d="M336.08,416.28L336.52,432.44" stroke="#ddd" stroke-width=".5"/>
<path d="M337.92,415.92L338.48,431.76" stroke="#ddd" stroke-width=".5"/>
<path d="M339.76,415.56L340.44,431.08" stroke="#ddd" stroke-width=".5"/>
<path d="M332.43,419.80L341.73,417.73" stroke="#bbb" stroke-width=".4"/>
<path d="M332.47,422.60L341.87,420.27" stroke="#bbb" stroke-width=".4"/>
<path d="M332.50,425.40L342.00,422.80" stroke="#bbb" stroke-width=".4"/>
<path d="M332.53,428.20L342.13,425.33" stroke="#bbb" stroke-width=".4"/>
<path d="M332.57,431.00L342.27,427.87" stroke="#bbb" stroke-width=".4"/>
<path d="M302.8,398.8L307.8,402" stroke="#555" stroke-width="2.4" stroke-linecap="round"/>
<path d="M302.8,398.8L307.8,402" stroke="#eee" stroke-width="1.2" stroke-linecap="round"/>
<ellipse cx="302.8" cy="398.8" rx="1.7" ry="1.5" fill="#444"/>
<path d="M306.6,410.4L311.6,414.2" stroke="#555" stroke-width="2.4" stroke-linecap="round"/>
<path d="M306.6,410.4L311.6,414.2" stroke="#eee" stroke-width="1.2" stroke-linecap="round"/>
<ellipse cx="306.6" cy="410.4" rx="1.7" ry="1.5" fill="#444"/>
<path d="M541.2,293.8L543,296.2M535.2,372.8L537.4,370.6M528.2,369.8L530.4,371.2M533.8,380.6L536.2,381.4" stroke="#333" stroke-width=".9"/>
<g class="r">
<path d="M423.8,165V48.6L472.5,46.7V170"/>
<path d="M472.4,218V265"/>
<path d="M423.8,211.6V257.8"/>
<path d="M423.5,303.7V420.3L369,425.5V356.7"/>
<path d="M361.1,354.4V362"/>
<path d="M456.8,208.4L469.4,205.8"/>
<path d="M362.6,242V255"/>
<path d="M398.6,334V348.8L383.2,354.7V363.3"/>
<path d="M472.5,296V432"/>
<path d="M453.5,412.5V440"/>
<path d="M535.4,171.4V300.4L527.4,322.4V373"/>
<path d="M527.4,193V207"/>
<path d="M527.7,395.3V401.8L492.6,416.4V432"/>
<path d="M555.5,451.9V448.4L496.6,456.2V448.4"/>
<path d="M307.1,401.1L412.2,465.8"/>
<path d="M311.2,413.2L400,469.8"/>
<path d="M64.4,517.1L376,474.5L380.4,510.1L54.1,553.6L59.5,580.7L146,569.5L179.6,564.6L270,552.4"/>
<path d="M312.5,546.6L436,529.8"/>
<path d="M403.2,489V576"/>
<path d="M419.2,488V567.4"/>
<path d="M459.6,496.3L555.3,556.8"/>
<path d="M463,509.6L553.7,565.1"/>
<path d="M481.9,468.4L534.4,501.4"/>
<path d="M492.9,532.2L502.3,551.9"/>
<path d="M248.6,475.6L265.4,472.8"/>
<path d="M245.8,508L265.4,506"/>
<path d="M255.5,562V568"/>
</g>
<g class="b">
<path d="M336.2,171L354.6,182.5"/>
<path d="M340.6,203.7L359,216"/>
<path d="M340.6,232.3L359,239.8"/>
<path d="M337.3,257.6L359,266.9"/>
<path d="M342.7,281L362.2,289.6"/>
<path d="M340.6,296.2L361.1,304.9"/>
<path d="M343.8,314.6L361.1,323.3"/>
<path d="M343.8,330.9L356.8,336.7"/>
<path d="M406.6,307L396.8,332"/>
<path d="M342.7,350.3L359,351.4"/>
<path d="M339,379.6L355.7,370.9"/>
<path d="M412,365.5L398,379.6"/>
<path d="M396.8,400.1L376.7,398.6"/>
<path d="M396.8,400.1L376.7,410.5"/>
<path d="M439,193.3L453.1,206.7"/>
<path d="M438.6,368.7L470.8,266.7"/>
<path d="M438.6,369.5L472,308"/>
<path d="M438.6,372L469.5,420"/>
<path d="M442.3,400L452.5,408.8"/>
<path d="M456.2,385.5L468.1,406"/>
<path d="M501,383.4L474.6,395.3"/>
<path d="M500.6,344.4L473.5,357"/>
<path d="M501,309.8L479,320.6"/>
<path d="M574,333L541.7,294.6"/>
<path d="M574,333L536.3,371.5"/>
<path d="M558,385L528.7,370.4"/>
<path d="M558,385L535,381"/>
<path d="M558,385L530,385"/>
<path d="M564.2,152.6L536,170.3"/>
<path d="M564.2,172.5L537.1,188.7"/>
<path d="M520.2,165.5L535,187.6"/>
<path d="M567.4,195.2L538.2,208.8"/>
<path d="M564.8,214L537.1,220.1"/>
<path d="M292.1,411L303.5,400.8"/>
<path d="M292.1,411L305.7,410.6"/>
<path d="M304.2,438.7L330.2,432.2"/>
<path d="M276.5,464.7L286,476"/>
<path d="M318.7,462.5L331.7,473.3"/>
<path d="M337.1,462.5L345.8,473.3"/>
<path d="M365.2,459.3L371.7,472.5"/>
<path d="M358.3,497.1L358.3,479.8"/>
<path d="M304.2,500.6L304.2,487.6"/>
<path d="M318.7,501.5L318.7,485.2"/>
<path d="M536,439.2L497.8,458.1"/>
<path d="M567,444.9L559.3,463.1"/>
<path d="M575.7,456.2L560.1,465.7"/>
<path d="M535.5,482.2L526.4,495.2"/>
<path d="M545,492.6L534,501.3"/>
<path d="M554.2,532.1L544.2,542.8"/>
<path d="M562.5,569.3L555.9,556"/>
<path d="M562.5,569.3L554.2,565.3"/>
<path d="M487,566.9L500.5,553"/>
<path d="M503,574.4L507,560"/>
<path d="M398.2,526L415.5,550.9"/>
<path d="M385.2,555.2L388.5,539"/>
<path d="M379.8,585.5L391.7,579.7"/>
<path d="M393.9,592L401.5,584"/>
<path d="M406.9,592L403.6,584.4"/>
<path d="M426.4,596.3L419.9,583.3"/>
<path d="M431.8,584.4L419.9,568.2"/>
<path d="M114.7,464.2L125.5,480"/>
<path d="M95.2,482.2L100.6,498.4"/>
<path d="M82.2,497.4L85.5,510.3"/>
<path d="M65.5,500.6L70.7,511.4"/>
<path d="M48.7,499.5L58.4,514.7"/>
<path d="M171,480.7L180.7,493"/>
<path d="M133.5,563.4L146,558"/>
<path d="M172,577.4L184,564.5"/>
<path d="M194.9,475.1L202.5,492"/>
<path d="M213.3,467L215.5,490.9"/>
<path d="M218.7,467L227.4,486.5"/>
<path d="M232.8,467.7L242.5,486.5"/>
<path d="M230,511.4L241,508"/>
<path d="M243,514.7L243,509"/>
<path d="M236,572L250,558"/>
<path d="M248,581.5L256,571"/>
<path d="M268,567L274,552"/>
<path d="M290,569.9L300,550"/>
<path d="M316,565L323.6,547"/>
<path d="M345,571L349,545"/>
<path d="M365,565L371,540"/>
</g>
<g>
<text transform="translate(331.29,170.57) scale(0.749,1)" font-size="17.00">51</text>
<text transform="translate(333.98,203.07) scale(0.856,1)" font-size="17.00">50</text>
<text transform="translate(334.59,231.48) scale(0.751,1)" font-size="17.00">49</text>
<text transform="translate(330.69,257.17) scale(0.770,1)" font-size="17.00">48</text>
<text transform="translate(337.18,281.01) scale(0.786,1)" font-size="17.00">47</text>
<text transform="translate(335.48,295.42) scale(0.786,1)" font-size="17.00">46</text>
<text transform="translate(338.30,315.11) scale(0.731,1)" font-size="17.00">44</text>
<text transform="translate(337.59,330.87) scale(0.770,1)" font-size="17.00">43</text>
<text transform="translate(402.08,307.02) scale(0.795,1)" font-size="17.00">45</text>
<text transform="translate(330.70,354.46) scale(0.742,1)" font-size="17.00">41</text>
<text transform="translate(325.88,386.36) scale(0.808,1)" font-size="17.00">42</text>
<text transform="translate(409.68,365.57) scale(0.795,1)" font-size="17.00">40</text>
<text transform="translate(399.06,404.37) scale(0.814,1)" font-size="17.00">39</text>
<text transform="translate(432.09,193.08) scale(0.780,1)" font-size="17.00">36</text>
<text transform="translate(425.47,376.72) scale(0.795,1)" font-size="17.00">30</text>
<text transform="translate(429.90,403.62) scale(0.767,1)" font-size="17.00">31</text>
<text transform="translate(449.95,385.22) scale(0.822,1)" font-size="17.00">32</text>
<text transform="translate(501.19,386.97) scale(0.776,1)" font-size="17.00">33</text>
<text transform="translate(500.09,348.52) scale(0.774,1)" font-size="17.00">34</text>
<text transform="translate(501.19,313.37) scale(0.776,1)" font-size="17.00">35</text>
<text transform="translate(573.66,336.52) scale(0.812,1)" font-size="17.00">37</text>
<text transform="translate(557.45,391.52) scale(0.821,1)" font-size="17.00">38</text>
<text transform="translate(564.34,155.62) scale(0.804,1)" font-size="17.00">63</text>
<text transform="translate(564.32,175.73) scale(0.817,1)" font-size="17.00">62</text>
<text transform="translate(514.53,164.92) scale(0.816,1)" font-size="17.00">68</text>
<text transform="translate(567.35,195.27) scale(0.791,1)" font-size="17.00">60</text>
<text transform="translate(566.70,217.93) scale(0.830,1)" font-size="17.00">59</text>
<text transform="translate(278.63,416.72) scale(0.816,1)" font-size="17.00">65</text>
<text transform="translate(291.16,440.87) scale(0.770,1)" font-size="17.00">64</text>
<text transform="translate(270.16,464.22) scale(0.778,1)" font-size="17.00">18</text>
<text transform="translate(307.89,461.87) scale(0.825,1)" font-size="17.00">15</text>
<text transform="translate(330.24,462.61) scale(0.789,1)" font-size="17.00">14</text>
<text transform="translate(355.47,458.91) scale(0.839,1)" font-size="17.00">12</text>
<text transform="translate(296.15,512.36) scale(0.782,1)" font-size="17.00">17</text>
<text transform="translate(310.50,512.62) scale(0.816,1)" font-size="17.00">16</text>
<text transform="translate(350.70,508.27) scale(0.818,1)" font-size="17.00">13</text>
<text transform="translate(392.87,526.17) scale(0.769,1)" font-size="17.00">54</text>
<text transform="translate(533.32,439.21) scale(0.672,1)" font-size="17.00">1</text>
<text transform="translate(566.55,444.87) scale(0.789,1)" font-size="17.00">66</text>
<text transform="translate(575.23,460.72) scale(0.808,1)" font-size="17.00">67</text>
<text transform="translate(530.58,482.42) scale(0.751,1)" font-size="17.00">52</text>
<text transform="translate(541.34,492.38) scale(0.791,1)" font-size="17.00">53</text>
<text transform="translate(552.41,532.08) scale(0.811,1)" font-size="17.00">19</text>
<text transform="translate(556.03,579.67) scale(0.808,1)" font-size="17.00">61</text>
<text transform="translate(481.90,577.97) scale(0.731,1)" font-size="17.00">52</text>
<text transform="translate(496.96,585.47) scale(0.778,1)" font-size="17.00">53</text>
<text transform="translate(377.75,566.96) scale(0.912,1)" font-size="17.00">2</text>
<text transform="translate(366.86,595.73) scale(0.776,1)" font-size="17.00">57</text>
<text transform="translate(384.33,603.42) scale(0.816,1)" font-size="17.00">68</text>
<text transform="translate(401.40,603.42) scale(0.830,1)" font-size="17.00">58</text>
<text transform="translate(420.36,607.47) scale(0.776,1)" font-size="17.00">56</text>
<text transform="translate(430.05,595.73) scale(0.784,1)" font-size="17.00">55</text>
<text transform="translate(108.33,463.82) scale(0.816,1)" font-size="17.00">25</text>
<text transform="translate(89.75,481.67) scale(0.782,1)" font-size="17.00">26</text>
<text transform="translate(75.29,496.96) scale(0.738,1)" font-size="17.00">27</text>
<text transform="translate(59.05,500.47) scale(0.784,1)" font-size="17.00">28</text>
<text transform="translate(41.75,498.97) scale(0.784,1)" font-size="17.00">29</text>
<text transform="translate(164.68,480.46) scale(0.751,1)" font-size="17.00">24</text>
<text transform="translate(121.56,570.91) scale(0.780,1)" font-size="17.00">11</text>
<text transform="translate(165.43,589.57) scale(0.798,1)" font-size="17.00">10</text>
<text transform="translate(188.55,475.07) scale(0.778,1)" font-size="17.00">23</text>
<text transform="translate(208.94,467.11) scale(0.804,1)" font-size="17.00">22</text>
<text transform="translate(225.84,467.81) scale(0.802,1)" font-size="17.00">21</text>
<text transform="translate(221.95,522.32) scale(0.784,1)" font-size="17.00">20</text>
<text transform="translate(237.03,526.12) scale(0.816,1)" font-size="17.00">68</text>
<text transform="translate(225.16,579.17) scale(0.868,1)" font-size="17.00">8</text>
<text transform="translate(237.61,593.17) scale(0.862,1)" font-size="17.00">9</text>
<text transform="translate(262.58,577.77) scale(0.784,1)" font-size="17.00">7</text>
<text transform="translate(287.49,580.72) scale(0.858,1)" font-size="17.00">6</text>
<text transform="translate(310.88,576.28) scale(0.853,1)" font-size="17.00">5</text>
<text transform="translate(338.58,582.86) scale(0.784,1)" font-size="17.00">4</text>
<text transform="translate(358.13,576.32) scale(0.961,1)" font-size="17.00">3</text>
</g>
</svg>
</body></html>
